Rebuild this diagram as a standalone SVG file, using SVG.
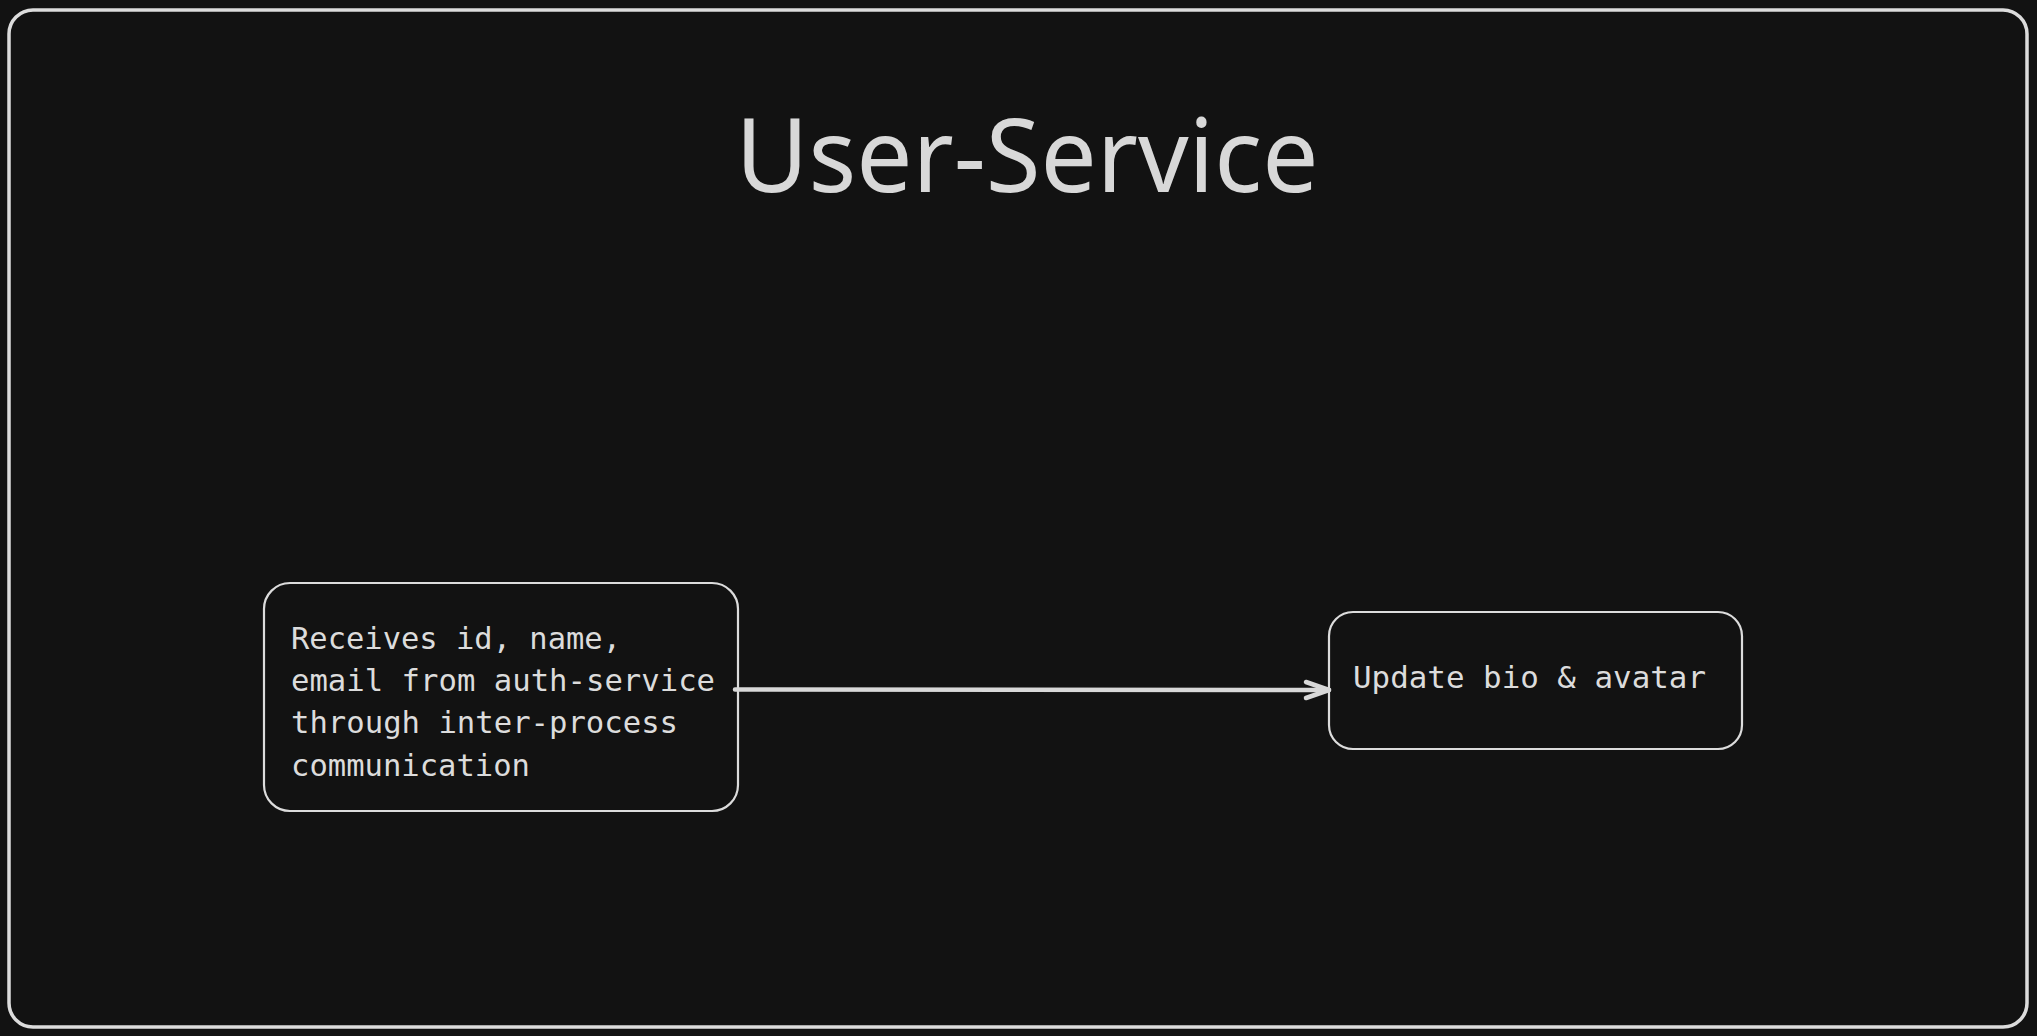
<svg xmlns="http://www.w3.org/2000/svg" width="2037" height="1036" viewBox="0 0 2037 1036">
  <style>
    .frame { fill: #121212; stroke: #dcdcdc; stroke-width: 3.5; }
    .node { fill: #121212; stroke: #dcdcdc; stroke-width: 2.2; }
    .label { font-family: "DejaVu Sans Mono", "Liberation Mono", monospace; font-size: 30.5px; fill: #dcdcdc; }
    .title { font-family: "Noto Sans", "Open Sans", sans-serif; font-size: 103px; fill: #d8d8d8; }
    .edge { fill: none; stroke: #d8d8d8; stroke-width: 4.5; stroke-linecap: round; stroke-linejoin: round; }
  </style>
  <rect x="0" y="0" width="2037" height="1036" fill="#121212"/>
  <g id="frame">
    <rect class="frame" x="9" y="10" width="2018" height="1017" rx="24" ry="24"/>
  </g>
  <g id="title">
    <text class="title" x="1027" y="192" text-anchor="middle" textLength="583" lengthAdjust="spacingAndGlyphs">User-Service</text>
  </g>
  <g id="node-receives">
    <rect class="node" x="264" y="583" width="474" height="228" rx="26" ry="26"/>
    <text class="label" x="291" y="649" textLength="330" lengthAdjust="spacingAndGlyphs">Receives id, name,</text>
    <text class="label" x="291" y="691" textLength="424" lengthAdjust="spacingAndGlyphs">email from auth-service</text>
    <text class="label" x="291" y="733" textLength="387" lengthAdjust="spacingAndGlyphs">through inter-process</text>
    <text class="label" x="291" y="776" textLength="239" lengthAdjust="spacingAndGlyphs">communication</text>
  </g>
  <g id="node-update">
    <rect class="node" x="1329" y="612" width="413" height="137" rx="24" ry="24"/>
    <text class="label" x="1353" y="688" textLength="353" lengthAdjust="spacingAndGlyphs">Update bio &amp; avatar</text>
  </g>
  <g id="connectors">
    <path class="edge" d="M 735 689.5 L 1329 690"/>
    <path class="edge" d="M 1306 682 L 1329 690 L 1306 698"/>
  </g>
</svg>
